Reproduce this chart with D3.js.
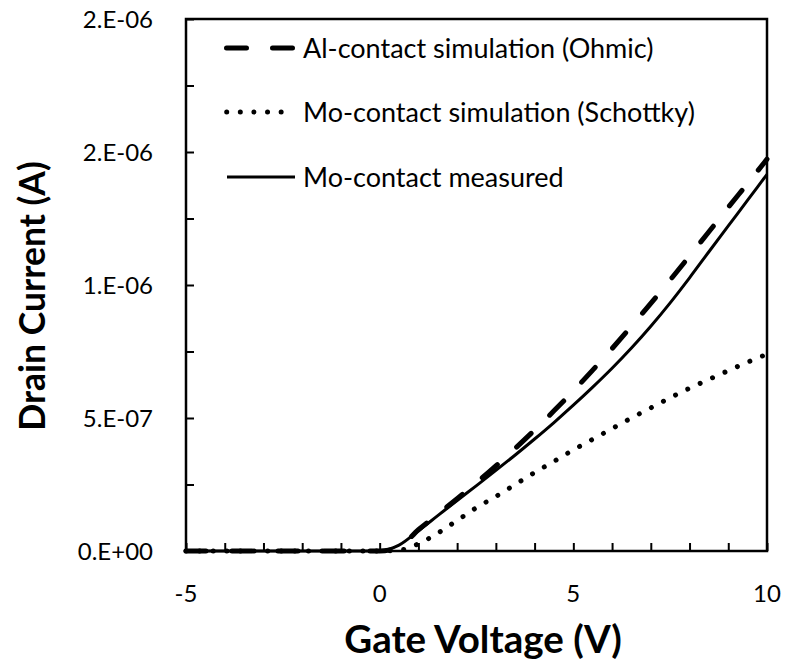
<!DOCTYPE html>
<html>
<head>
<meta charset="utf-8">
<script src="https://cdn.jsdelivr.net/npm/d3@7"></script>
<style>
  html, body { margin: 0; padding: 0; background: #fff; }
  svg { display: block; }
  text { font-family: Lato, "Open Sans", sans-serif; fill: #000; }
</style>
</head>
<body>
<svg id="chart" width="786" height="670"></svg>
<script>
// ---- data (current in units of 1e-7 A) ----
const gateVoltage = [-5,-4.5,-4,-3.5,-3,-2.5,-2,-1.5,-1,-0.5,0,0.5,1,1.5,2,2.5,3,3.5,4,4.5,5,5.5,6,6.5,7,7.5,8,8.5,9,9.5,10];
const alOhmic =      [0,0,0,0,0,0,0,0,0,0,0,0.15,0.8,1.38,1.97,2.57,3.2,3.86,4.55,5.27,6.02,6.8,7.61,8.45,9.31,10.19,11.09,12.0,12.92,13.82,14.73];
const moSchottky =   [0,0,0,0,0,0,0,0,0,0,0,0.03,0.27,0.67,1.15,1.63,2.05,2.5,2.95,3.37,3.8,4.2,4.6,5.0,5.38,5.76,6.12,6.45,6.78,7.1,7.4];
const moMeasured =   [0,0,0,0,0,0,0,0,0,0,0.01,0.22,0.76,1.33,1.9,2.46,3.03,3.61,4.21,4.83,5.48,6.16,6.87,7.63,8.45,9.33,10.27,11.25,12.22,13.19,14.16];
const seriesNames = ["Al-contact simulation (Ohmic)", "Mo-contact simulation (Schottky)", "Mo-contact measured"];
const xTickValues = [-5, 0, 5, 10];
const yTickValues = [0, 5e-7, 1e-6, 1.5e-6, 2e-6];
const yTickLabels = ["0.E+00", "5.E-07", "1.E-06", "2.E-06", "2.E-06"];
const xTitle = "Gate Voltage (V)";
const yTitle = "Drain Current (A)";

// ---- layout ----
const svg = d3.select("#chart");
const L = 186, R = 767, T = 19, B = 551;
const x = d3.scaleLinear().domain([-5, 10]).range([L, R]);
const y = d3.scaleLinear().domain([0, 2e-6]).range([B, T]);

const styles = [
  { width: 5, dash: "20,26", cap: "round" },
  { width: 5, dash: "0.01,13.6", cap: "round" },
  { width: 3, dash: null, cap: "butt" }
];
const seriesData = [alOhmic, moSchottky, moMeasured];

const line = d3.line().x(d => x(d[0])).y(d => y(d[1] * 1e-7)).curve(d3.curveMonotoneX);

seriesData.forEach((vals, i) => {
  const pts = gateVoltage.map((v, j) => [v, vals[j]]);
  const p = svg.append("path").datum(pts)
    .attr("d", line)
    .attr("fill", "none")
    .attr("stroke", "#000")
    .attr("stroke-width", styles[i].width)
    .attr("stroke-linecap", styles[i].cap)
    .attr("stroke-linejoin", "round");
  if (styles[i].dash) p.attr("stroke-dasharray", styles[i].dash);
});

// frame
svg.append("rect").attr("x", L).attr("y", T).attr("width", R - L).attr("height", B - T)
  .attr("fill", "none").attr("stroke", "#000").attr("stroke-width", 2.5);

// x axis (ticks inward)
const xAxis = d3.axisBottom(x).tickValues(d3.range(-5, 10.01, 1)).tickSizeInner(-8).tickSizeOuter(0).tickFormat("");
const gx = svg.append("g").attr("transform", `translate(0,${B})`).call(xAxis);
gx.select(".domain").remove();
gx.selectAll(".tick line").attr("stroke", "#000").attr("stroke-width", 2);
svg.append("g").selectAll("text").data(xTickValues).join("text")
  .attr("x", d => x(d)).attr("y", 602)
  .attr("text-anchor", "middle").attr("font-size", 24).text(d => d);

// y axis (ticks inward)
const yAxis = d3.axisLeft(y).tickValues(d3.range(0, 8.5).map(k => k * 2.5e-7)).tickSizeInner(-8).tickSizeOuter(0).tickFormat("");
const gy = svg.append("g").attr("transform", `translate(${L},0)`).call(yAxis);
gy.select(".domain").remove();
gy.selectAll(".tick line").attr("stroke", "#000").attr("stroke-width", 2);
svg.append("g").selectAll("text").data(yTickValues).join("text")
  .attr("x", 153).attr("y", d => y(d) + 9)
  .attr("text-anchor", "end").attr("font-size", 24).text((d, i) => yTickLabels[i]);

// titles
svg.append("text").attr("x", 483).attr("y", 653)
  .attr("text-anchor", "middle").attr("font-size", 38.5).attr("font-weight", "bold").text(xTitle);
svg.append("text").attr("transform", `translate(45,296) rotate(-90)`)
  .attr("text-anchor", "middle").attr("font-size", 35.5).attr("font-weight", "bold").text(yTitle);

// legend
const legY = [48, 112, 177];
const legX0 = [226.5, 226.7, 227];
const legX1 = [292.5, 282, 295];
const leg = svg.append("g");
seriesNames.forEach((name, i) => {
  const s = styles[i];
  const ln = leg.append("line").attr("x1", legX0[i]).attr("x2", legX1[i]).attr("y1", legY[i]).attr("y2", legY[i])
    .attr("stroke", "#000").attr("stroke-width", s.width).attr("stroke-linecap", s.cap);
  if (s.dash) ln.attr("stroke-dasharray", s.dash);
  leg.append("text").attr("x", 303).attr("y", legY[i] + 9.5).attr("font-size", 27).text(name);
});
</script>
</body>
</html>
